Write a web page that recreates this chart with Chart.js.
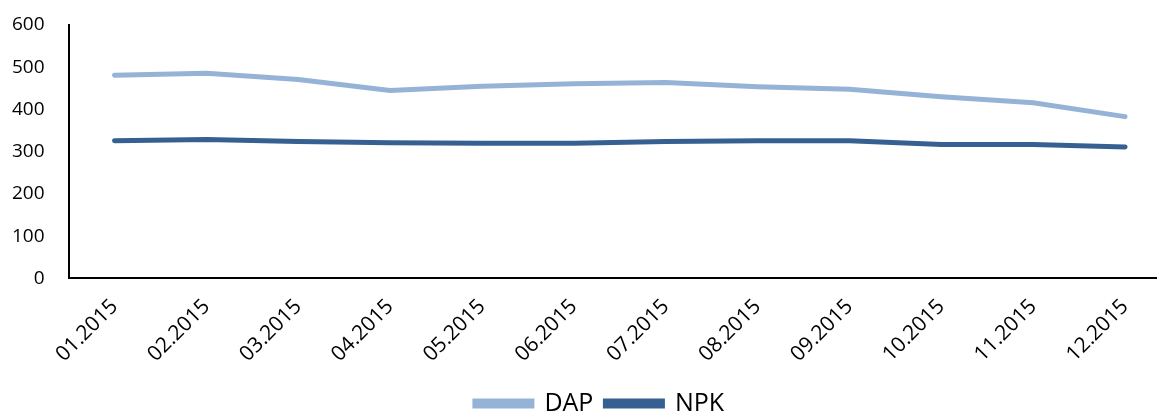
<!DOCTYPE html>
<html>
<head>
<meta charset="utf-8">
<script src="https://cdn.jsdelivr.net/npm/chart.js@4"></script>
<style>
  html, body { margin: 0; padding: 0; overflow: hidden; background: #fff; }
  /* the original is cropped: rotated labels hang left of the axis and the plot runs past the right edge */
  .chart-box { width: 1202px; height: 426px; margin-left: -22px; }
</style>
</head>
<body>
<div class="chart-box">
  <canvas id="line_chart"></canvas>
</div>
<script>
const months = ["01.2015", "02.2015", "03.2015", "04.2015", "05.2015", "06.2015",
  "07.2015", "08.2015", "09.2015", "10.2015", "11.2015", "12.2015"];
const dapPrices = [481, 486, 471, 445, 455, 461, 464, 454, 448, 430, 416, 383];
const npkPrices = [326, 329, 324, 321, 320, 320, 324, 326, 326, 317, 317, 311];
const yTicks = [0, 100, 200, 300, 400, 500, 600];

const ctx = document.getElementById("line_chart").getContext("2d");

// legend sits a bit right of the canvas centre in the original
const legendShift = {
  id: "legendShift",
  afterLayout: (chart) => {
    chart.legend.left += 20;
    chart.legend.right += 20;
  },
};

let configuration = {
  type: "line",
  data: {
    labels: months,
    datasets: [
      {
        label: "DAP",
        data: dapPrices,
        borderColor: "#95b3d7",
        backgroundColor: "#95b3d7",
        borderWidth: 5,
        borderCapStyle: "round",
        pointRadius: 0,
        tension: 0,
      },
      {
        label: "NPK",
        data: npkPrices,
        borderColor: "#376092",
        backgroundColor: "#376092",
        borderWidth: 5,
        borderCapStyle: "round",
        pointRadius: 0,
        tension: 0,
      },
    ],
  },
  options: {
    responsive: true,
    maintainAspectRatio: false,
    animation: false,
    layout: { padding: { top: 25, right: 9, left: 10, bottom: 0 } },
    plugins: {
      tooltip: { enabled: false },
      legend: {
        position: "bottom",
        labels: {
          boxWidth: 57,
          boxHeight: 5,
          padding: 12,
          color: "#000",
          font: { family: "'Open Sans'", size: 25 },
        },
      },
    },
    scales: {
      x: {
        offset: true,
        grid: { display: false, drawTicks: false },
        border: { color: "#000", width: 2 },
        afterFit: (scale) => {
          scale.height -= 4;
        },
        ticks: {
          color: "#000",
          maxRotation: 45,
          minRotation: 45,
          padding: 16,
          font: { family: "'Open Sans'", size: 21 },
        },
      },
      y: {
        min: 0,
        max: 600,
        afterBuildTicks: (axis) => {
          axis.ticks = yTicks.map((v) => ({ value: v }));
        },
        afterFit: (scale) => {
          scale.paddingTop = 0;
          scale.paddingBottom = 0;
        },
        grid: { display: false, drawTicks: false },
        border: { color: "#000", width: 2 },
        ticks: {
          color: "#000",
          padding: 24,
          font: { family: "'Open Sans'", size: 19 },
        },
      },
    },
  },
  plugins: [legendShift],
};

new Chart(ctx, configuration);
</script>
</body>
</html>
